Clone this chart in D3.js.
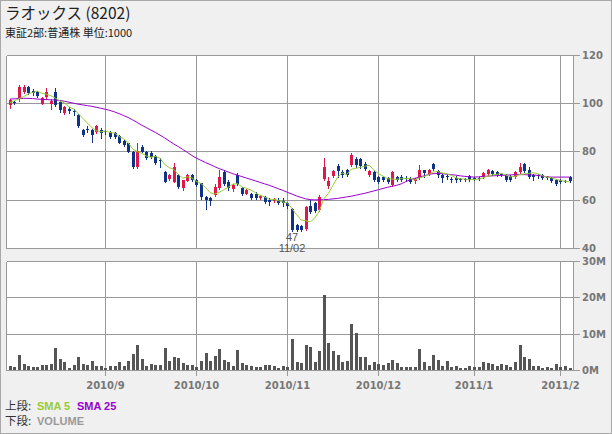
<!DOCTYPE html>
<html><head><meta charset="utf-8">
<script src="https://cdn.jsdelivr.net/npm/d3@7"></script>
<style>html,body{margin:0;padding:0;background:#f0f0f0;}svg{display:block}</style>
</head><body><svg id="c" width="612" height="434"></svg>
<script>
const title = "ラオックス (8202)";
const subtitle = "東証2部:普通株 単位:1000";
const monthLabels = ["2010/9","2010/10","2010/11","2010/12","2011/1","2011/2"];
const monthIndex = [21,41,61,81,102,121];
const priceTicks = [40,60,80,100,120];
const volTicks = [0,10,20,30];
const volTickLabels = ["0M","10M","20M","30M"];
const lowMark = {index:62, value:"47", date:"11/02"};

const open = [99.1,100.2,101.9,104.6,106.4,105.0,104.6,99.7,102.3,99.6,104.6,100.5,95.9,97.5,96.6,95.0,88.8,89.2,88.8,88.1,88.7,88.3,88.1,87.4,86.3,84.4,83.3,79.9,73.4,81.9,79.9,79.4,78.1,76.6,71.6,68.6,67.5,70.2,64.9,67.9,70.2,68.2,66.8,61.0,60.8,61.9,64.7,71.5,67.4,64.3,70.2,64.7,62.6,62.6,62.6,60.6,61.2,59.9,59.6,60.1,59.4,58.5,56.2,49.5,49.1,47.9,57.4,58.5,55.7,68.8,65.6,69.8,73.9,71.5,72.2,74.3,77.0,77.0,75.0,70.2,71.5,69.5,69.5,69.2,66.0,69.5,69.4,69.2,68.8,67.6,69.2,72.2,70.8,74.7,72.0,70.1,70.0,68.8,69.2,68.7,68.6,69.7,69.2,69.0,69.4,70.8,72.0,71.5,70.8,70.1,69.7,69.4,71.5,75.0,72.5,70.1,70.1,70.4,69.6,69.2,68.3,68.3,67.8,69.4];
const high = [101.5,100.6,107.4,107.3,106.8,105.6,105.0,102.6,106.0,101.5,106.2,101.2,98.8,98.2,97.6,95.4,89.2,90.3,89.3,90.8,89.5,88.9,88.6,87.9,86.7,84.8,83.6,80.3,83.6,82.6,80.2,80.3,78.4,77.1,72.0,70.5,75.1,70.6,68.2,70.5,70.5,68.5,67.1,61.5,61.2,66.7,72.2,72.5,68.1,66.5,71.1,65.2,64.4,63.0,63.3,61.9,61.6,60.6,60.8,60.6,60.6,59.2,56.6,50.0,49.5,57.4,59.9,59.0,61.9,77.3,69.5,72.5,75.0,72.2,72.9,79.4,77.5,77.4,75.5,72.5,72.0,70.0,69.9,69.6,72.0,70.0,70.1,69.8,69.4,69.2,74.3,72.5,72.6,75.3,72.4,71.1,70.6,69.4,69.7,69.2,69.2,70.1,69.6,69.6,71.5,72.6,72.4,71.9,71.2,70.5,70.1,71.8,75.3,75.3,73.6,70.8,70.5,70.8,70.0,69.6,68.7,68.7,68.4,69.7];
const low = [98.1,99.5,101.0,104.2,103.5,103.3,102.5,99.4,101.8,97.3,98.8,96.3,95.5,96.0,94.9,90.0,86.5,88.2,84.0,87.8,85.4,87.2,85.7,85.4,83.3,82.2,79.6,73.2,73.0,79.6,76.8,77.2,74.8,73.4,67.2,68.3,67.2,64.8,64.0,67.6,67.8,65.8,60.4,56.4,57.8,61.5,64.3,66.0,63.9,63.8,66.3,62.2,62.3,60.2,60.3,60.3,58.5,57.8,59.2,58.2,57.4,56.8,47.0,47.2,47.3,47.6,54.6,55.0,55.3,68.3,65.0,69.4,69.5,69.5,69.8,73.9,73.5,73.2,72.5,69.8,67.9,67.0,67.6,67.0,65.6,67.6,67.8,67.9,66.9,67.1,68.8,69.4,70.4,72.2,69.6,67.4,68.8,67.5,67.4,67.6,67.7,67.9,68.3,68.0,69.0,70.4,70.2,69.7,69.7,67.7,67.9,69.0,71.2,71.4,69.0,68.1,69.2,68.8,68.5,67.4,66.2,66.8,67.2,67.2];
const close = [101.2,99.9,106.7,106.6,104.0,104.3,102.9,102.2,104.6,100.9,99.2,97.0,98.4,96.6,96.3,90.3,86.8,88.8,86.9,90.4,87.8,88.0,86.0,85.8,83.6,82.5,79.9,73.4,80.1,79.9,77.1,77.5,75.1,76.3,67.5,70.2,73.7,65.2,68.0,70.2,68.2,66.3,61.0,59.9,59.6,65.4,69.5,66.7,64.7,66.0,66.7,62.6,64.0,60.6,60.6,61.5,59.2,59.2,60.3,58.5,58.5,57.4,47.4,47.5,47.5,57.1,55.0,55.5,61.2,73.6,67.8,72.0,72.0,70.2,70.2,78.4,74.3,73.9,72.9,72.0,68.4,67.4,68.1,67.4,71.5,68.1,68.3,68.6,67.4,68.8,72.2,71.2,72.2,72.9,70.1,69.2,69.6,68.5,68.1,68.3,68.4,68.3,68.9,68.6,71.1,72.2,70.6,70.1,70.4,68.1,68.3,71.5,73.6,71.9,69.4,69.6,69.7,69.2,69.0,67.8,66.7,67.2,67.6,67.6];
const volume = [1.1,0.7,4.1,1.65,1.1,0.8,0.8,1.4,1.4,1.65,6.0,3.0,2.2,0.55,1.4,3.6,1.65,1.4,2.5,1.1,1.1,0.55,1.0,1.1,2.2,1.1,2.5,4.4,6.9,3.0,1.1,1.65,1.4,1.4,6.0,2.5,3.6,3.3,1.9,1.4,1.4,0.8,2.5,4.7,2.5,3.9,5.8,2.75,2.2,1.1,5.5,1.9,1.4,1.1,0.8,0.8,1.4,1.4,1.1,0.55,1.1,0.8,8.5,2.2,1.9,6.9,6.3,2.2,5.2,20.6,7.4,5.2,4.1,2.2,2.5,12.7,10.2,3.6,3.6,1.4,2.2,1.65,1.4,1.9,2.75,1.9,0.8,0.8,0.8,0.8,5.8,2.2,1.1,4.1,2.75,1.1,2.5,0.8,1.1,0.55,0.55,1.1,0.8,0.8,2.2,1.9,1.65,1.1,1.65,1.4,0.8,2.2,6.9,3.6,3.0,1.1,1.1,0.55,0.8,0.55,1.65,0.8,1.1,0.55];
const sma5 = [100.1,100.9,101.7,102.6,103.7,104.3,104.9,104.0,103.6,103.0,102.0,100.8,100.0,98.4,97.5,95.7,93.7,91.8,89.8,88.6,88.1,88.4,87.8,87.6,86.2,85.2,83.6,81.0,79.9,79.2,78.1,77.6,77.9,77.2,74.7,73.3,72.6,70.6,68.9,69.5,69.1,67.6,66.7,65.1,63.0,62.4,63.1,64.2,65.2,66.5,66.7,65.3,64.8,64.0,62.9,61.9,61.2,60.2,60.2,59.7,59.1,58.8,56.4,53.9,51.7,51.4,50.9,52.5,55.3,60.5,62.6,66.0,69.3,71.1,70.4,72.6,73.0,73.4,73.9,74.3,72.3,70.9,69.8,68.7,68.6,68.5,68.7,68.8,68.8,68.2,69.1,69.6,70.4,71.5,71.7,71.1,70.8,70.1,69.1,68.7,68.6,68.3,68.4,68.5,69.1,69.8,70.3,70.5,70.9,70.3,69.5,69.7,70.4,70.7,70.9,71.2,70.8,70.0,69.4,69.1,68.5,68.0,67.7,67.4];
const sma25 = [101.6,101.7,101.8,101.9,101.9,101.8,101.6,101.5,101.4,101.3,101.2,101.0,100.7,100.3,99.9,99.5,99.2,98.9,98.6,98.2,97.8,97.4,96.9,96.3,95.6,94.8,94.0,93.0,91.9,90.8,89.8,88.8,87.8,86.7,85.6,84.3,83.1,82.0,80.8,79.6,78.3,77.2,76.3,75.4,74.6,73.7,72.9,72.2,71.5,70.8,70.2,69.6,69.0,68.4,67.8,67.2,66.6,66.0,65.3,64.6,63.9,63.1,62.4,61.6,61.0,60.4,60.1,60.0,60.0,60.1,60.2,60.4,60.6,60.9,61.2,61.5,61.9,62.3,62.7,63.2,63.7,64.2,64.7,65.2,65.6,66.0,66.6,67.5,68.3,68.9,69.4,69.9,70.4,70.8,70.9,70.8,70.6,70.4,70.2,69.9,69.7,69.5,69.4,69.5,69.7,69.8,69.9,70.0,70.1,70.2,70.3,70.4,70.4,70.4,70.3,70.3,70.1,69.8,69.5,69.4,69.4,69.4,69.4,69.4];

const svg = d3.select("#c");
const W = 612, H = 434;
const L = 6, R = 573;
const main = {top: 54.5, bottom: 248.3};
const vol = {top: 261, bottom: 370};

const x = d3.scaleLinear().domain([-0.85, 123.75]).range([L, R]);
const y = d3.scaleLinear().domain([40, 120]).range([main.bottom, main.top]);
const yv = d3.scaleLinear().domain([0, 30]).range([vol.bottom, vol.top]);
const px = v => Math.round(v) + 0.5;

const UP = "#e0174a", DOWN = "#0f3388", GRID = "#999999", AXT = "#777777";
const C5 = "#99cc33", C25 = "#9900cc";

// background
svg.append("rect").attr("x",0).attr("y",0).attr("width",W).attr("height",H).attr("fill","#f0f0f0");
svg.append("rect").attr("x",0.5).attr("y",0.5).attr("width",W-1).attr("height",H-1).attr("fill","none").attr("stroke","#a8a8a8");

// title
svg.append("text").attr("x",5).attr("y",19).text(title)
  .attr("font-family","'Noto Sans CJK JP'").attr("font-size",15.5).attr("fill","#222");
svg.append("text").attr("x",5).attr("y",37).text(subtitle)
  .attr("font-family","'Noto Sans CJK JP'").attr("font-size",11).attr("fill","#222");

// panels
[[main.top, main.bottom],[vol.top, vol.bottom]].forEach(([t,b])=>{
  svg.append("rect").attr("x",px(L)).attr("y",px(t)).attr("width",Math.round(R)-Math.round(L)).attr("height",Math.round(b)-Math.round(t)).attr("fill","#fff");
});

const g = svg.append("g").attr("stroke",GRID).attr("stroke-width",1).attr("shape-rendering","crispEdges");
monthIndex.forEach(i=>{
  g.append("line").attr("x1",px(x(i))).attr("x2",px(x(i))).attr("y1",px(main.top)).attr("y2",px(main.bottom));
  g.append("line").attr("x1",px(x(i))).attr("x2",px(x(i))).attr("y1",px(vol.top)).attr("y2",px(vol.bottom)+5);
});
priceTicks.forEach(v=>{
  g.append("line").attr("x1",px(L)).attr("x2",R+7).attr("y1",px(y(v))).attr("y2",px(y(v)));
});
volTicks.forEach(v=>{
  g.append("line").attr("x1",px(L)).attr("x2",R+7).attr("y1",px(yv(v))).attr("y2",px(yv(v)));
});
[[main.top, main.bottom],[vol.top, vol.bottom]].forEach(([t,b])=>{
  g.append("line").attr("x1",px(L)).attr("x2",px(L)).attr("y1",px(t)).attr("y2",px(b));
  g.append("line").attr("x1",px(R)).attr("x2",px(R)).attr("y1",px(t)).attr("y2",px(b));
});

// volume bars
svg.append("g").selectAll("rect").data(volume).join("rect")
  .attr("x",(d,i)=>Math.round(x(i))-1).attr("width",3)
  .attr("y",d=>Math.round(yv(d))).attr("height",d=>Math.round(yv(0))-Math.round(yv(d)))
  .attr("fill","#555");

// candles
const cg = svg.append("g").attr("shape-rendering","crispEdges");
close.forEach((c,i)=>{
  const o = open[i], up = c >= o, col = up ? UP : DOWN;
  const cx = Math.round(x(i));
  cg.append("line").attr("x1",cx+0.5).attr("x2",cx+0.5)
    .attr("y1",Math.round(y(high[i]))).attr("y2",Math.round(y(low[i]))+1)
    .attr("stroke",col).attr("stroke-width",1);
  const yt = Math.round(y(Math.max(o,c))), yb = Math.round(y(Math.min(o,c)));
  cg.append("rect").attr("x",cx-1).attr("width",3).attr("y",yt).attr("height",Math.max(1,yb-yt)).attr("fill",col);
});

// SMA lines
const line = d3.line().x((d,i)=>x(i)).y(d=>y(d));
svg.append("path").datum(sma25).attr("d",line).attr("fill","none").attr("stroke",C25).attr("stroke-width",1);
svg.append("path").datum(sma5).attr("d",line).attr("fill","none").attr("stroke",C5).attr("stroke-width",1);

// axis labels
const axFont = "'DejaVu Sans'";
priceTicks.forEach(v=>{
  svg.append("text").attr("x",582).attr("y",px(y(v))+3.6).text(v)
    .attr("font-family",axFont).attr("font-weight","bold").attr("font-size",10).attr("fill",AXT);
});
volTicks.forEach((v,k)=>{
  svg.append("text").attr("x",582).attr("y",px(yv(v))+3.6).text(volTickLabels[k])
    .attr("font-family",axFont).attr("font-weight","bold").attr("font-size",10).attr("fill",AXT);
});
monthIndex.forEach((i,k)=>{
  svg.append("text").attr("x",x(i)).attr("y",389).attr("text-anchor","middle").text(monthLabels[k])
    .attr("font-family",axFont).attr("font-weight","bold").attr("font-size",10).attr("fill",AXT);
});

// low marker
svg.append("text").attr("x",x(lowMark.index)).attr("y",241).attr("text-anchor","middle").text(lowMark.value)
  .attr("font-family","'Liberation Sans'").attr("font-size",11).attr("fill","#555");
svg.append("text").attr("x",x(lowMark.index)).attr("y",252).attr("text-anchor","middle").text(lowMark.date)
  .attr("font-family","'Liberation Sans'").attr("font-size",11).attr("fill","#555");

// legend
const jp = "'Noto Sans CJK JP'", lat = "'Liberation Sans'";
svg.append("text").attr("x",5).attr("y",410).attr("font-size",11.5).attr("font-family",jp).attr("fill","#333").text("上段:");
svg.append("text").attr("x",37).attr("y",410).attr("font-size",11).attr("font-family",lat).attr("font-weight","bold").attr("fill",C5).text("SMA 5");
svg.append("text").attr("x",77).attr("y",410).attr("font-size",11).attr("font-family",lat).attr("font-weight","bold").attr("fill",C25).text("SMA 25");
svg.append("text").attr("x",5).attr("y",425).attr("font-size",11.5).attr("font-family",jp).attr("fill","#333").text("下段:");
svg.append("text").attr("x",37).attr("y",425).attr("font-size",11).attr("font-family",lat).attr("font-weight","bold").attr("fill","#999").text("VOLUME");
</script></body></html>
